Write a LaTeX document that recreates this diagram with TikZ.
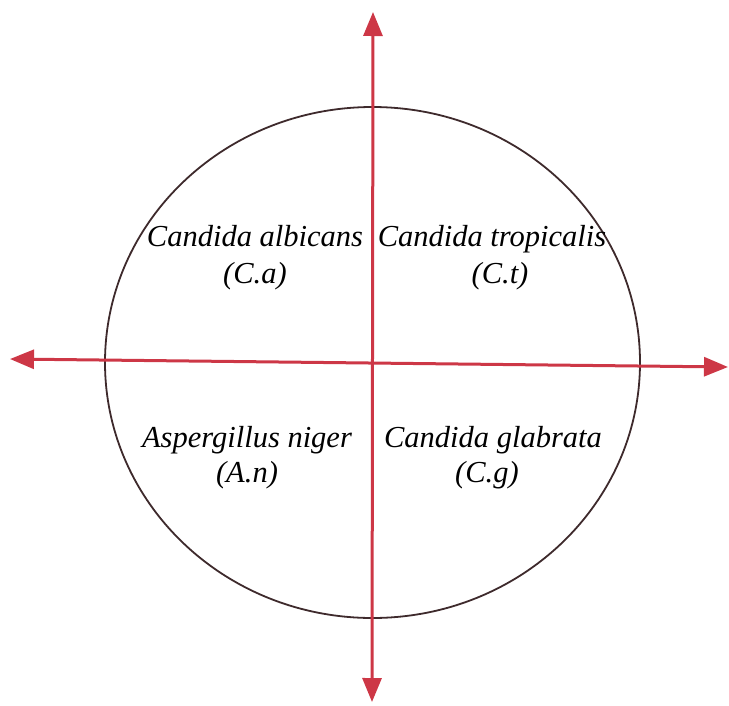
\documentclass[tikz,border=0pt]{standalone}
\usepackage{fontspec}
\setmainfont{Liberation Serif}
\usetikzlibrary{arrows.meta}
\definecolor{axisred}{RGB}{205,55,70}
\definecolor{rimc}{RGB}{62,42,44}
\begin{document}
\begin{tikzpicture}[x=1pt,y=-1pt,
  axis/.style={axisred,line width=3pt,{Triangle[length=24pt,width=19pt]}-{Triangle[length=24pt,width=19pt]}},
  lbl/.style={font=\fontsize{30.5}{36}\selectfont\itshape,inner sep=0pt,anchor=base}]
  \useasboundingbox (0,0) rectangle (729,705);
  % centre and axis ends
  \coordinate (o) at (372.5,362.5);
  \coordinate (n) at (373,12);
  \coordinate (s) at (372,702);
  \coordinate (w) at (10,359);
  \coordinate (e) at (728,367);
  % rim (drawn first => sits behind the axes)
  \draw[rimc,line width=1.8pt] (o) ellipse [x radius=267.5pt, y radius=255.5pt];
  % axes
  \draw[axis] (w) -- (e);
  \draw[axis] (n) -- (s);
  % upper quadrants
  \node[lbl] (ca)  at (255,246) {Candida albicans};
  \node[lbl] (cab) at (255,283) {(C.a)};
  \node[lbl] (ct)  at (492,246) {Candida tropicalis};
  \node[lbl] (ctb) at (500,283) {(C.t)};
  % lower quadrants
  \node[lbl] (an)  at (247,447) {Aspergillus niger};
  \node[lbl] (anb) at (247,482) {(A.n)};
  \node[lbl] (cg)  at (493,447) {Candida glabrata};
  \node[lbl] (cgb) at (487,482) {(C.g)};
\end{tikzpicture}
\end{document}
